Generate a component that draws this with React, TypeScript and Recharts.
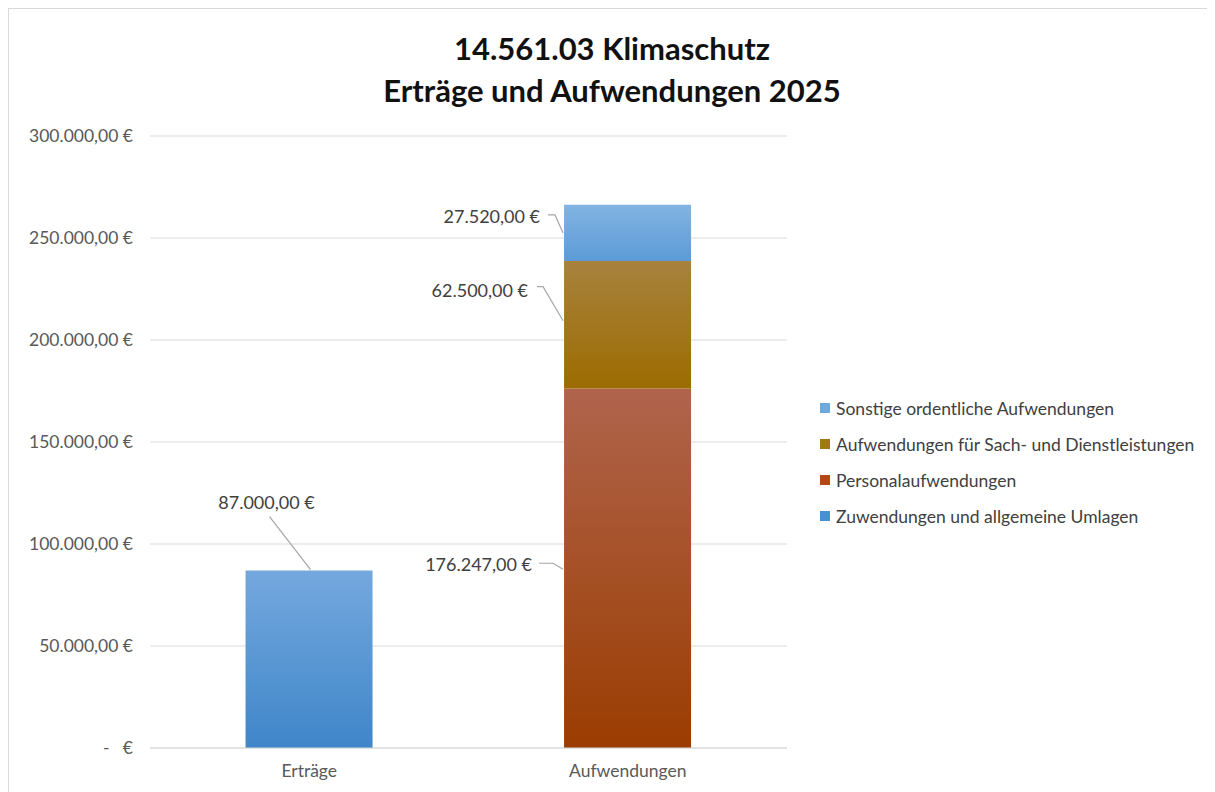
import React from 'react';
import { BarChart, Bar, XAxis, YAxis, CartesianGrid, LabelList } from 'recharts';

const categories = ['Erträge', 'Aufwendungen'];
const zuwendungen = [87000, null];
const personal = [null, 176247];
const sachDienst = [null, 62500];
const sonstige = [null, 27520];
const yTicks = [0, 50000, 100000, 150000, 200000, 250000, 300000];

const FONT = 'Lato, "Open Sans", sans-serif';

const series = [
  { key: 'zuw', name: 'Zuwendungen und allgemeine Umlagen', color: '#4a8fd4', top: '#74a8de', bottom: '#3f86c9' },
  { key: 'pers', name: 'Personalaufwendungen', color: '#b04a12', top: '#b0644c', bottom: '#9b3d02' },
  { key: 'sach', name: 'Aufwendungen für Sach- und Dienstleistungen', color: '#a07a10', top: '#a8823e', bottom: '#9c6c00' },
  { key: 'sonst', name: 'Sonstige ordentliche Aufwendungen', color: '#6fa8dc', top: '#82b4e3', bottom: '#5c9bd6' },
];

const data = categories.map((c, i) => ({
  name: c,
  zuw: zuwendungen[i],
  pers: personal[i],
  sach: sachDienst[i],
  sonst: sonstige[i],
}));

// 176247 -> "176.247,00"
const fmt = (v: number) => {
  const s = Math.round(v).toString().replace(/\B(?=(\d{3})+(?!\d))/g, '.');
  return s + ',00';
};

// label placement per series: text anchor point + leader line, relative to bar x and ref y
const labelCfg: Record<string, any> = {
  zuw: { ref: 'top', tx: 21, ty: -69, anchor: 'middle', path: [[24, -54], [65, -1]] },
  pers: { ref: 'mid', tx: -32, ty: -4, anchor: 'end', path: [[-25, -5], [-11, -5], [-1, 1]] },
  sach: { ref: 'mid', tx: -36, ty: -35, anchor: 'end', path: [[-27, -38], [-21, -38], [-1, -4]] },
  sonst: { ref: 'mid', tx: -24, ty: -17, anchor: 'end', path: [[-16, -18], [-9, -18], [-1, 0]] },
};

const makeLabel = (key: string) => (props: any) => {
  const { x, y, height, value } = props;
  if (value == null || !value) return null;
  const c = labelCfg[key];
  const ry = c.ref === 'top' ? y : y + height / 2;
  const pts = c.path.map((p: number[]) => `${x + p[0]},${ry + p[1]}`).join(' ');
  return (
    <g>
      <polyline points={pts} fill="none" stroke="#a6a6a6" strokeWidth={1.2} />
      <text x={x + c.tx} y={ry + c.ty} textAnchor={c.anchor} dominantBaseline="central"
        fontSize={18} fill="#404040" fontFamily={FONT}>
        {fmt(value)} €
      </text>
    </g>
  );
};

const yFmt = (v: number) => (v === 0 ? '-\u00a0\u00a0\u00a0€' : `${fmt(v)} €`);

export default function App() {
  return (
    <div style={{ position: 'relative', width: 1206, height: 783, borderTop: '1px solid #d9d9d9', borderLeft: '1px solid #d9d9d9', background: '#fff', fontFamily: FONT }}>
      <div style={{ position: 'absolute', left: 0, width: 1206, top: 18, textAlign: 'center', fontSize: 31, fontWeight: 700, lineHeight: '42px', color: '#111' }}>
        <div>14.561.03 Klimaschutz</div>
        <div>Erträge und Aufwendungen 2025</div>
      </div>
      <BarChart width={1206} height={783} data={data} margin={{ top: 127, right: 428, left: 0, bottom: 0 }}
        barCategoryGap="30%">
        <defs>
          {series.map((s) => (
            <linearGradient key={s.key} id={`g-${s.key}`} x1="0" y1="0" x2="0" y2="1">
              <stop offset="0%" stopColor={s.top} />
              <stop offset="100%" stopColor={s.bottom} />
            </linearGradient>
          ))}
        </defs>
        <CartesianGrid vertical={false} stroke="#d9d9d9" />
        <XAxis dataKey="name" height={44} axisLine={{ stroke: '#d9d9d9' }} tickLine={false} tickSize={0} tickMargin={17}
          tick={{ fontSize: 17.5, fill: '#595959', fontFamily: FONT }} />
        <YAxis width={141} domain={[0, 300000]} ticks={yTicks} tickFormatter={yFmt} axisLine={false} tickLine={false}
          tickSize={0} tickMargin={17} tick={{ fontSize: 17.5, fill: '#595959', fontFamily: FONT }} />
        {series.map((s) => (
          <Bar key={s.key} dataKey={s.key} name={s.name} stackId="a" fill={`url(#g-${s.key})`} isAnimationActive={false}>
            <LabelList dataKey={s.key} content={makeLabel(s.key)} />
          </Bar>
        ))}
      </BarChart>
      <div style={{ position: 'absolute', left: 811, top: 381 }}>
        {[...series].reverse().map((s) => (
          <div key={s.key} style={{ display: 'flex', alignItems: 'center', height: 36, fontSize: 17.5, color: '#404040', whiteSpace: 'nowrap' }}>
            <span style={{ width: 10, height: 10, background: s.color, marginRight: 6, display: 'inline-block' }} />
            {s.name}
          </div>
        ))}
      </div>
    </div>
  );
}
